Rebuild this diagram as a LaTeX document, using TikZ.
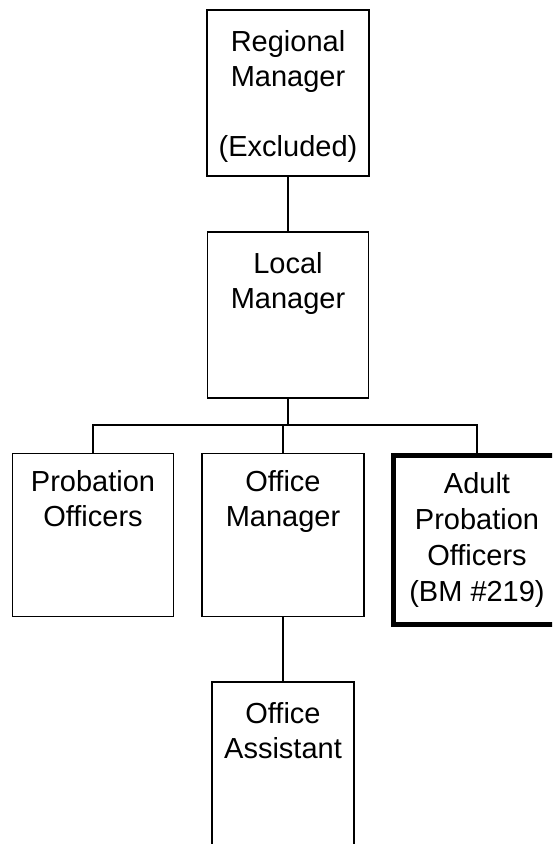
\documentclass[tikz,border=0pt]{standalone}
\usepackage{fontspec}
\setmainfont{Liberation Sans}
\tikzset{
  post/.style={draw, line width=1.9pt, minimum width=161pt, minimum height=164pt, inner sep=0pt, outer sep=0pt},
  posttext/.style={anchor=north, align=center, inner sep=0pt, font=\fontsize{29}{35}\selectfont},
  link/.style={line width=1.9pt}
}
\begin{document}
\begin{tikzpicture}[x=1pt,y=-1pt]
  % Fix the page to the size of the chart
  \useasboundingbox (0,0) rectangle (552,844);
  \clip (0,0) rectangle (552,844);

  % Draw the regional manager box at the top
  \node[post, minimum width=162pt, minimum height=166pt] (regional) at (288,93) {};
  \node[posttext] (regionaltext) at ([yshift=-20pt]regional.north) {Regional\\Manager\\[35pt](Excluded)};

  % Draw the local manager box
  \node[post, minimum height=166pt] (local) at (288,315) {};
  \node[posttext] (localtext) at ([yshift=-20pt]local.north) {Local\\Manager};

  % Draw the three boxes of the second row
  \node[post, minimum height=163pt] (probation) at (93,535) {};
  \node[posttext] (probationtext) at ([yshift=-17pt]probation.north) {Probation\\Officers};

  \node[post, minimum width=162pt, minimum height=163pt] (office) at (283,535) {};
  \node[posttext] (officetext) at ([yshift=-17pt]office.north) {Office\\Manager};

  % The bargaining unit box has a heavy border
  \node[post, line width=5pt, minimum width=166.4pt, minimum height=168.4pt,
        align=center, font=\fontsize{29}{36}\selectfont] (adult) at (477,540)
        {Adult\\Probation\\Officers\\(BM \#219)};

  % Draw the office assistant box at the bottom
  \node[post, minimum width=142pt, minimum height=180pt] (assistant) at (283,772) {};
  \node[posttext] (assistanttext) at ([yshift=-20pt]assistant.north) {Office\\Assistant};

  % Draw the connecting lines
  \coordinate (bus) at (288,425);
  \draw[link] (regional.south) -- (local.north);
  \draw[link] (local.south) -- (bus);
  \draw[link] (probation.north) |- (bus) -| (adult.north);
  \draw[link] (office.north) -- (office.north |- bus);
  \draw[link] (office.south) -- (assistant.north);
\end{tikzpicture}
\end{document}
